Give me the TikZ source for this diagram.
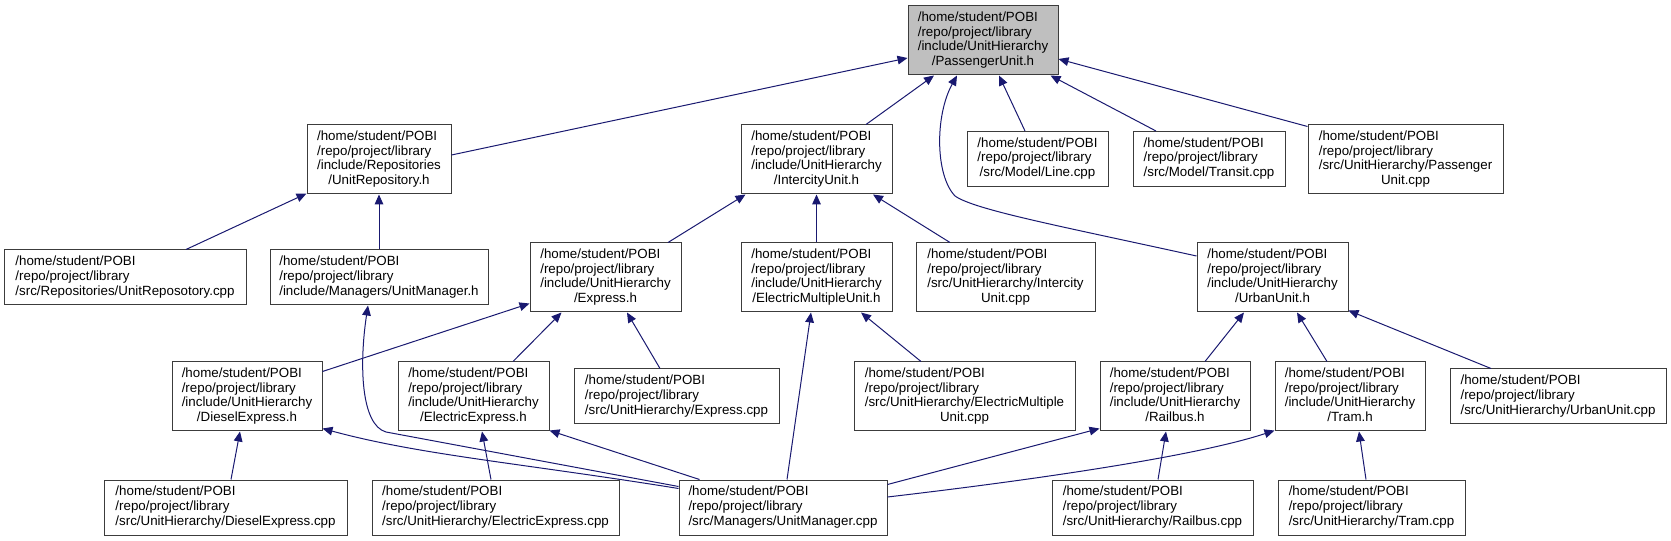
\documentclass[tikz,border=0pt]{standalone}
\usepackage{fontspec}
\setmainfont{Liberation Sans}
\usetikzlibrary{arrows.meta,calc}
\definecolor{edgeblue}{RGB}{25,25,112}
\definecolor{boxline}{RGB}{60,60,60}
\definecolor{hilite}{RGB}{191,191,191}
\newcommand\dxt[2]{\begin{tabular}{@{}l@{}}#1\\\multicolumn{1}{@{}c@{}}{#2}\end{tabular}}
\begin{document}
\begin{tikzpicture}[x=0.75pt,y=-0.75pt,
  file/.style={draw=boxline, line width=0.75pt, fill=white, inner sep=0pt, font=\fontsize{10}{11}\selectfont},
  bw/.style={minimum width=#1*0.75pt},
  hfour/.style={minimum height=69*0.75pt},
  hthree/.style={minimum height=55*0.75pt},
  edge/.style={draw=edgeblue, line width=0.75pt, -{Triangle[length=7.5pt,width=6.5pt]}}]
\useasboundingbox (0,0) rectangle (1671,541);
% row 1
\node[file,bw=150,hfour,fill=hilite] (P) at (983,40.5) {\dxt{/home/student/POBI\\/repo/project/library\\/include/UnitHierarchy}{/PassengerUnit.h}};
% row 2
\node[file,bw=144,hfour] (UR) at (379,159.5) {\dxt{/home/student/POBI\\/repo/project/library\\/include/Repositories}{/UnitRepository.h}};
\node[file,bw=151,hfour] (IC) at (816.5,159.5) {\dxt{/home/student/POBI\\/repo/project/library\\/include/UnitHierarchy}{/IntercityUnit.h}};
\node[file,bw=141,hthree] (LN) at (1037.5,159) {\dxt{/home/student/POBI\\/repo/project/library}{/src/Model/Line.cpp}};
\node[file,bw=152,hthree] (TR) at (1209,159) {\dxt{/home/student/POBI\\/repo/project/library}{/src/Model/Transit.cpp}};
\node[file,bw=195,hfour] (PUcpp) at (1405.5,159.5) {\dxt{/home/student/POBI\\/repo/project/library\\/src/UnitHierarchy/Passenger}{Unit.cpp}};
% row 3
\node[file,bw=242,hthree] (URcpp) at (125,277.5) {\dxt{/home/student/POBI\\/repo/project/library}{/src/Repositories/UnitReposotory.cpp}};
\node[file,bw=218,hthree] (UMh) at (379,277.5) {\dxt{/home/student/POBI\\/repo/project/library}{/include/Managers/UnitManager.h}};
\node[file,bw=151,hfour] (EXh) at (605.5,277.5) {\dxt{/home/student/POBI\\/repo/project/library\\/include/UnitHierarchy}{/Express.h}};
\node[file,bw=151,hfour] (EMUh) at (816.5,277.5) {\dxt{/home/student/POBI\\/repo/project/library\\/include/UnitHierarchy}{/ElectricMultipleUnit.h}};
\node[file,bw=179,hfour] (ICcpp) at (1005.5,277.5) {\dxt{/home/student/POBI\\/repo/project/library\\/src/UnitHierarchy/Intercity}{Unit.cpp}};
\node[file,bw=151,hfour] (UUh) at (1272.5,277.5) {\dxt{/home/student/POBI\\/repo/project/library\\/include/UnitHierarchy}{/UrbanUnit.h}};
% row 4
\node[file,bw=150,hfour] (DEh) at (247,396.5) {\dxt{/home/student/POBI\\/repo/project/library\\/include/UnitHierarchy}{/DieselExpress.h}};
\node[file,bw=151,hfour] (EEh) at (473.5,396.5) {\dxt{/home/student/POBI\\/repo/project/library\\/include/UnitHierarchy}{/ElectricExpress.h}};
\node[file,bw=205,hthree] (EXcpp) at (676.5,396.5) {\dxt{/home/student/POBI\\/repo/project/library}{/src/UnitHierarchy/Express.cpp}};
\node[file,bw=221,hfour] (EMUcpp) at (964.5,396.5) {\dxt{/home/student/POBI\\/repo/project/library\\/src/UnitHierarchy/ElectricMultiple}{Unit.cpp}};
\node[file,bw=150,hfour] (RBh) at (1175,396.5) {\dxt{/home/student/POBI\\/repo/project/library\\/include/UnitHierarchy}{/Railbus.h}};
\node[file,bw=150,hfour] (TMh) at (1350,396.5) {\dxt{/home/student/POBI\\/repo/project/library\\/include/UnitHierarchy}{/Tram.h}};
\node[file,bw=216,hthree] (UUcpp) at (1558,396.5) {\dxt{/home/student/POBI\\/repo/project/library}{/src/UnitHierarchy/UrbanUnit.cpp}};
% row 5
\node[file,bw=243,hthree] (DEcpp) at (225.5,507.5) {\dxt{/home/student/POBI\\/repo/project/library}{/src/UnitHierarchy/DieselExpress.cpp}};
\node[file,bw=247,hthree] (EEcpp) at (495.5,507.5) {\dxt{/home/student/POBI\\/repo/project/library}{/src/UnitHierarchy/ElectricExpress.cpp}};
\node[file,bw=208,hthree] (UMcpp) at (783,507.5) {\dxt{/home/student/POBI\\/repo/project/library}{/src/Managers/UnitManager.cpp}};
\node[file,bw=201,hthree] (RBcpp) at (1152.5,507.5) {\dxt{/home/student/POBI\\/repo/project/library}{/src/UnitHierarchy/Railbus.cpp}};
\node[file,bw=187,hthree] (TMcpp) at (1371.5,507.5) {\dxt{/home/student/POBI\\/repo/project/library}{/src/UnitHierarchy/Tram.cpp}};
% edges to PassengerUnit.h
\draw[edge] ($(UR.east)+(0,-4.5)$) -- ($(P.west)+(0,17.5)$);
\draw[edge] ($(IC.north)+(49.5,0)$) -- ($(P.south)+(-49,0)$);
\draw[edge] ($(UUh.west)+(0,-21.5)$) .. controls (1060,226) and (975,210) .. (955,196) .. controls (935,175) and (935,115) .. ($(P.south)+(-26,0)$);
\draw[edge] ($(LN.north)+(-12.5,0)$) -- ($(P.south)+(16,0)$);
\draw[edge] ($(TR.north)+(-53,0)$) -- ($(P.south east)+(-8,0)$);
\draw[edge] ($(PUcpp.north west)+(0,2)$) -- ($(P.east)+(0,18.5)$);
% UnitRepository.h
\draw[edge] ($(URcpp.north)+(61,0)$) -- ($(UR.south west)+(0,-1)$);
\draw[edge] (UMh.north) -- (UR.south);
% IntercityUnit.h
\draw[edge] ($(EXh.north)+(62.5,0)$) -- ($(IC.south west)+(5,0)$);
\draw[edge] (EMUh.north) -- (IC.south);
\draw[edge] ($(ICcpp.north)+(-55.5,0)$) -- ($(IC.south)+(56.5,0)$);
% Express.h
\draw[edge] ($(DEh.north east)+(0,10)$) -- ($(EXh.south west)+(0,-9)$);
\draw[edge] ($(EEh.north)+(39.5,0)$) -- ($(EXh.south west)+(32,0)$);
\draw[edge] ($(EXcpp.north)+(-16.5,0)$) -- ($(EXh.south)+(21.5,0)$);
% DieselExpress.h
\draw[edge] ($(DEcpp.north)+(5.5,0)$) -- ($(DEh.south)+(-7,0)$);
\draw[edge] ($(UMcpp.north west)+(0,9)$) .. controls (520,463) and (420,455) .. ($(DEh.south east)+(0,-3)$);
% UnitManager.h
\draw[edge] ($(UMcpp.north west)+(0,7)$) -- (386,432) .. controls (361,425) and (359,365) .. ($(UMh.south)+(-11,0)$);
% ElectricExpress.h
\draw[edge] ($(UMcpp.north west)+(21,0)$) -- ($(EEh.south east)+(0,-1)$);
\draw[edge] ($(EEcpp.north)+(-4.5,0)$) -- ($(EEh.south)+(8.5,0)$);
% ElectricMultipleUnit.h
\draw[edge] ($(UMcpp.north)+(4,0)$) -- ($(EMUh.south)+(-5.5,0)$);
\draw[edge] ($(EMUcpp.north)+(-43.5,0)$) -- ($(EMUh.south)+(44.5,0)$);
% Railbus.h / Tram.h
\draw[edge] ($(UMcpp.north east)+(0,5)$) -- ($(RBh.south west)+(0,-3)$);
\draw[edge] ($(UMcpp.east)+(0,-10.5)$) .. controls (1050,478) and (1200,455) .. ($(TMh.south west)+(0,-1)$);
\draw[edge] ($(RBcpp.north)+(5.5,0)$) -- ($(RBh.south)+(-9,0)$);
\draw[edge] ($(TMcpp.north)+(-5.5,0)$) -- ($(TMh.south)+(9,0)$);
% UrbanUnit.h
\draw[edge] ($(RBh.north)+(30,0)$) -- ($(UUh.south)+(-28.5,0)$);
\draw[edge] ($(TMh.north)+(-23,0)$) -- ($(UUh.south)+(24.5,0)$);
\draw[edge] ($(UUcpp.north)+(-67,0)$) -- ($(UUh.south east)+(0,-2)$);
\end{tikzpicture}
\end{document}
